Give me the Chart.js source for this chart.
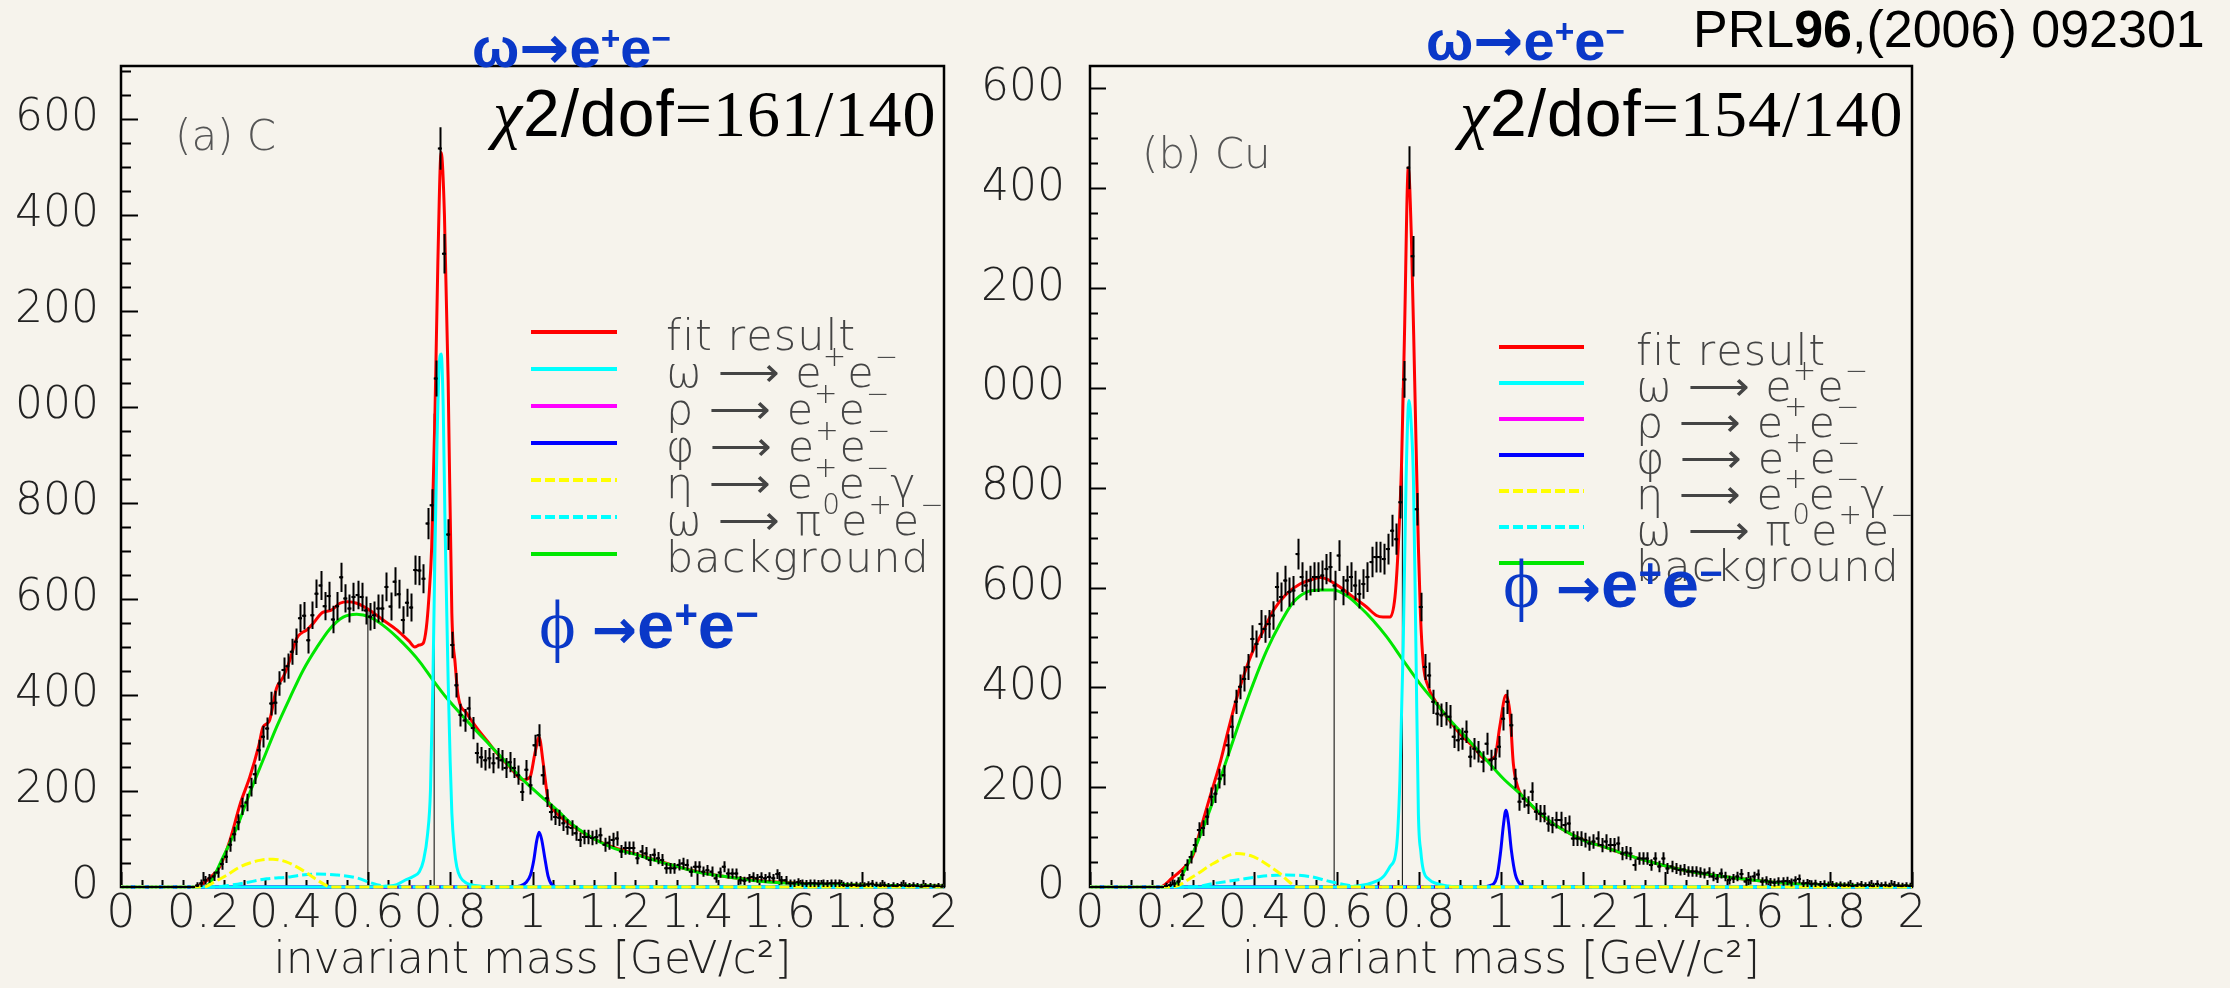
<!DOCTYPE html>
<html>
<head>
<meta charset="utf-8">
<title>omega, phi -> e+e- in C and Cu</title>
<script src="https://cdn.jsdelivr.net/npm/chart.js@4.4.1/dist/chart.umd.min.js"></script>
<style>
  html, body { margin: 0; padding: 0; }
  body { width: 2230px; height: 988px; position: relative; overflow: hidden; background: #f6f3ec; }
  canvas { position: absolute; top: 0; }
  #panelC { left: 0; }
  #panelCu { left: 984px; }
  .txt { position: absolute; white-space: nowrap; line-height: 1; }
  .blue { color: #0a38c8; font-family: 'Liberation Sans', Arial, sans-serif; font-weight: bold; font-size: 56px; }
  .blue sup, .phi sup { font-size: 0.6em; line-height: 0; position: relative; top: -0.5em; vertical-align: baseline; }
  .ar { font-family: 'DejaVu Sans', sans-serif; font-weight: bold; position: relative; line-height: 0; }
  .blue .ar { font-size: 60px; top: 1px; }
  .phi .ar { font-size: 54px; margin-left: 16px; }
  .target { font-family: 'DejaVu Sans', sans-serif; font-weight: 200; color: #555; font-size: 42px; }
  .chi { font-family: 'Liberation Sans', Arial, sans-serif; font-size: 66px; color: #000; letter-spacing: 1px; }
  .chi .g { font-family: 'Liberation Serif', serif; font-style: italic; }
  .chi .n { font-family: 'Liberation Serif', serif; font-size: 66px; }
  .ref { font-family: 'Liberation Sans', Arial, sans-serif; font-size: 52px; color: #000; }
  .phi { color: #0a38c8; font-family: 'Liberation Sans', Arial, sans-serif; font-weight: bold; font-size: 67px; }
  .phi .s { font-family: 'Liberation Serif', serif; font-weight: normal; font-size: 70px; }
</style>
</head>
<body>
<canvas id="panelC" width="960" height="988"></canvas>
<canvas id="panelCu" width="1246" height="988"></canvas>

<div class="txt blue" style="left:472px;top:20px">ω<span class="ar">→</span>e<sup>+</sup>e<sup>−</sup></div>
<div class="txt blue" style="left:1426px;top:13px">ω<span class="ar">→</span>e<sup>+</sup>e<sup>−</sup></div>
<div class="txt ref" style="left:1693px;top:3px">PRL<b>96</b>,(2006) 092301</div>
<div class="txt chi" style="left:493px;top:80px"><span class="g">χ</span>2/dof<span class="n">=161/140</span></div>
<div class="txt chi" style="left:1460px;top:80px"><span class="g">χ</span>2/dof<span class="n">=154/140</span></div>
<div class="txt target" style="left:175px;top:115px">(a) C</div>
<div class="txt target" style="left:1142px;top:133px">(b) Cu</div>
<div class="txt phi" style="left:539px;top:590px"><span class="s">ϕ</span><span class="ar">→</span>e<sup>+</sup>e<sup>−</sup></div>
<div class="txt phi" style="left:1503px;top:549px"><span class="s">ϕ</span><span class="ar">→</span>e<sup>+</sup>e<sup>−</sup></div>

<script>
// histogram binning: 10 MeV bins from 0 to 2 GeV/c2
const binWidth = 0.01;
const firstBinCentre = 0.005;

const massTicks = ['0', '0.2', '0.4', '0.6', '0.8', '1', '1.2', '1.4', '1.6', '1.8', '2'];
const countTicks = ['0', '200', '400', '600', '800', '000', '200', '400', '600'];

const legendKeys = ['fit', 'omega', 'rho', 'phi', 'eta', 'omegaDalitz', 'background'];
const legendLabels = ['fit result', 'ω ⟶ e^+e^−', 'ρ ⟶ e^+e^−', 'φ ⟶ e^+e^−',
                      'η ⟶ e^+e^−γ', 'ω ⟶ π^0e^+e^−', 'background'];

// ---- (a) carbon target ----
const countsC = [
  0, 0, 0, 0, 0, 0, 0, 0, 0, 0,
  0, 0, 0, 0, 0, 0, 0, 0,
  3, 8, 14, 18, 22, 30, 48, 63, 88, 110,
  135, 168, 176, 208, 235, 285, 313, 330, 382, 384,
  424, 452, 460, 490, 511, 560, 565, 514, 566, 611,
  628, 585, 606, 557, 585, 645, 601, 580, 604, 608,
  604, 576, 563, 566, 580, 580, 625, 584, 636, 610,
  556, 592, 582, 660, 659, 642, 757, 795, 1059, 1538,
  1319, 734, 504, 420, 358, 347, 372, 331, 279, 270,
  264, 268, 258, 268, 264, 248, 260, 248, 233, 198,
  244, 212, 295, 316, 233, 185, 156, 146, 144, 133,
  125, 123, 112, 98, 104, 104, 102, 104, 108, 88,
  92, 98, 101, 74, 81, 81, 81, 60, 74, 70,
  56, 67, 60, 56, 39, 39, 39, 46, 49, 46,
  32, 42, 42, 32, 35, 32, 18, 30, 42, 28,
  28, 28, 14, 13, 18, 21, 18, 21, 18, 21,
  18, 27, 14, 14, 8, 8, 10, 8, 7, 8,
  8, 7, 8, 7, 8, 8, 8, 4, 3, 4,
  4, 3, 3, 5, 7, 4, 3, 4, 2, 3,
  2, 4, 3, 2, 3, 2, 1, 2, 2, 1,
  2, 1
];
const fitC = [
  [0, 0], [0.18, 0], [0.2, 8], [0.22, 22], [0.24, 42], [0.265, 98], [0.29, 174], [0.313, 229],
  [0.335, 295], [0.345, 333], [0.36, 345], [0.378, 414], [0.394, 437], [0.41, 472], [0.427, 518],
  [0.44, 530], [0.451, 535], [0.467, 549], [0.49, 572], [0.51, 576], [0.532, 591], [0.55, 594],
  [0.573, 591], [0.605, 576], [0.637, 556], [0.671, 535], [0.685, 524], [0.7, 512], [0.714, 500],
  [0.725, 504], [0.734, 507], [0.742, 540], [0.748, 600], [0.755, 708], [0.763, 986], [0.77, 1300],
  [0.778, 1530], [0.786, 1400], [0.795, 1055], [0.804, 570], [0.812, 466], [0.819, 400], [0.84, 362],
  [0.865, 331], [0.892, 302], [0.913, 279], [0.945, 250], [0.977, 223], [0.994, 229], [1.006, 279],
  [1.016, 312], [1.026, 258], [1.038, 181], [1.05, 162], [1.1, 126], [1.15, 100], [1.2, 82],
  [1.25, 69], [1.3, 56], [1.35, 43], [1.4, 32], [1.45, 24], [1.5, 18], [1.55, 13], [1.6, 10],
  [1.7, 6], [1.8, 4], [1.9, 3], [2, 2]
];
const backgroundC = [
  [0, 0], [0.2, 0], [0.216, 8], [0.248, 62], [0.282, 125], [0.313, 196], [0.345, 264], [0.378, 333],
  [0.411, 395], [0.443, 452], [0.476, 499], [0.508, 538], [0.54, 562], [0.573, 568], [0.605, 562],
  [0.637, 545], [0.671, 520], [0.702, 493], [0.727, 468], [0.758, 431], [0.792, 393], [0.824, 362],
  [0.855, 333], [0.897, 295], [0.938, 258], [0.977, 223], [1.018, 191], [1.06, 160], [1.1, 128],
  [1.15, 100], [1.2, 80], [1.25, 68], [1.3, 55], [1.35, 43], [1.4, 31], [1.45, 24], [1.5, 18],
  [1.55, 12], [1.6, 9], [1.7, 6], [1.8, 4], [1.9, 3], [2, 2]
];
const omegaC = [
  [0, 0], [0.6, 0], [0.65, 2], [0.67, 5], [0.69, 14], [0.71, 22], [0.725, 32], [0.735, 55],
  [0.745, 110], [0.752, 200], [0.758, 431], [0.763, 700], [0.768, 930], [0.773, 1080], [0.778, 1110],
  [0.783, 1000], [0.787, 778], [0.791, 600], [0.795, 431], [0.8, 260], [0.804, 154], [0.81, 80],
  [0.816, 42], [0.825, 20], [0.84, 8], [0.86, 3], [0.9, 0], [2, 0]
];
const rhoC = [[0, 0], [2, 0]];
const phiC = [
  [0, 0], [0.95, 0], [0.97, 2], [0.985, 10], [0.995, 25], [1.003, 55], [1.01, 95], [1.016, 114],
  [1.022, 100], [1.03, 60], [1.038, 22], [1.045, 7], [1.055, 1], [1.07, 0], [2, 0]
];
const etaC = [
  [0, 0], [0.2, 0], [0.209, 2], [0.23, 12], [0.258, 25], [0.285, 40], [0.313, 50], [0.34, 56],
  [0.369, 58], [0.4, 53], [0.427, 42], [0.45, 30], [0.476, 15], [0.495, 5], [0.508, 0], [2, 0]
];
const omegaDalitzC = [
  [0, 0], [0.23, 0], [0.26, 3], [0.297, 8], [0.354, 17], [0.41, 21], [0.44, 25], [0.476, 27],
  [0.524, 25], [0.573, 19], [0.61, 8], [0.637, 2], [0.66, 0], [2, 0]
];
const guidesC = [[0.6, 576], [0.761, 986]];

// ---- (b) copper target ----
const countsCu = [
  0, 0, 0, 0, 0, 0, 0, 0, 0, 0,
  0, 0, 0, 0, 0, 0, 0, 0,
  2, 4, 7, 11, 24, 44, 60, 84, 114, 118,
  141, 181, 187, 217, 224, 284, 321, 371, 401, 417,
  441, 497, 487, 527, 517, 527, 544, 601, 581, 614,
  591, 594, 667, 621, 604, 614, 621, 621, 624, 637,
  641, 604, 664, 594, 614, 621, 604, 587, 607, 621,
  651, 661, 661, 657, 677, 714, 697, 771, 1017, 1441,
  1264, 757, 561, 441, 424, 371, 347, 344, 347, 341,
  301, 294, 297, 311, 261, 277, 271, 251, 287, 254,
  257, 281, 337, 371, 324, 217, 171, 177, 164, 191,
  151, 147, 147, 127, 124, 134, 134, 124, 127, 97,
  97, 97, 94, 87, 91, 97, 84, 91, 84, 84,
  87, 67, 69, 67, 44, 57, 57, 57, 44, 57,
  41, 57, 37, 41, 37, 34, 35, 31, 31, 31,
  29, 27, 29, 21, 17, 27, 21, 14, 17, 21,
  26, 11, 14, 21, 25, 11, 13, 10, 9, 11,
  11, 12, 9, 13, 16, 7, 8, 6, 7, 5,
  6, 4, 5, 3, 4, 3, 4, 2, 3, 5,
  3, 4, 2, 6, 3, 4, 2, 5, 3, 2,
  3, 2
];
const fitCu = [
  [0, 0], [0.17, 0], [0.2, 18], [0.235, 44], [0.25, 62], [0.267, 110], [0.292, 181], [0.316, 247],
  [0.332, 300], [0.353, 367], [0.373, 421], [0.397, 474], [0.422, 514], [0.446, 554], [0.478, 587],
  [0.511, 607], [0.543, 617], [0.56, 620], [0.576, 617], [0.608, 601], [0.64, 581], [0.673, 561],
  [0.697, 544], [0.713, 541], [0.73, 541], [0.742, 581], [0.75, 681], [0.758, 847], [0.765, 1100],
  [0.7745, 1441], [0.782, 1300], [0.79, 1014], [0.799, 681], [0.804, 547], [0.811, 447], [0.823, 401],
  [0.839, 374], [0.868, 341], [0.9, 307], [0.933, 281], [0.965, 254], [0.985, 261], [0.997, 321],
  [1.012, 384], [1.022, 347], [1.03, 247], [1.042, 197], [1.062, 174], [1.103, 141], [1.168, 107],
  [1.208, 92], [1.249, 81], [1.297, 67], [1.378, 47], [1.46, 31], [1.541, 21], [1.622, 13],
  [1.703, 7], [1.784, 5], [1.865, 3], [1.95, 2], [2, 2]
];
const backgroundCu = [
  [0, 0], [0.2, 0], [0.235, 41], [0.267, 101], [0.3, 174], [0.332, 254], [0.365, 334], [0.397, 407],
  [0.43, 474], [0.462, 527], [0.495, 571], [0.527, 591], [0.56, 595], [0.592, 595], [0.624, 584],
  [0.657, 561], [0.689, 534], [0.722, 501], [0.762, 454], [0.803, 407], [0.843, 367], [0.884, 327],
  [0.925, 291], [0.965, 254], [1.006, 217], [1.046, 187], [1.087, 154], [1.127, 127], [1.168, 107],
  [1.208, 91], [1.249, 81], [1.297, 67], [1.378, 47], [1.46, 31], [1.541, 21], [1.622, 13],
  [1.703, 7], [1.784, 5], [1.865, 3], [1.95, 2], [2, 2]
];
const omegaCu = [
  [0, 0], [0.6, 0], [0.65, 2], [0.681, 7], [0.714, 21], [0.73, 41], [0.746, 81], [0.754, 214],
  [0.762, 481], [0.769, 814], [0.776, 975], [0.782, 920], [0.787, 814], [0.793, 481], [0.799, 147],
  [0.805, 70], [0.811, 34], [0.825, 15], [0.843, 7], [0.87, 2], [0.9, 0], [2, 0]
];
const rhoCu = [[0, 0], [2, 0]];
const phiCu = [
  [0, 0], [0.95, 0], [0.973, 3], [0.99, 20], [0.999, 70], [1.006, 125], [1.012, 154], [1.018, 130],
  [1.025, 75], [1.035, 25], [1.05, 3], [1.06, 0], [2, 0]
];
const etaCu = [
  [0, 0], [0.2, 0], [0.251, 21], [0.3, 47], [0.357, 67], [0.39, 63], [0.414, 54], [0.44, 40],
  [0.462, 27], [0.485, 10], [0.503, 0], [2, 0]
];
const omegaDalitzCu = [
  [0, 0], [0.25, 0], [0.3, 7], [0.357, 14], [0.414, 21], [0.478, 24], [0.535, 21], [0.584, 11],
  [0.624, 4], [0.66, 0], [2, 0]
];
const guidesCu = [[0.594, 612], [0.76, 1000]];

// ---------------------------------------------------------------
const thinFont = "'DejaVu Sans', Roboto, sans-serif";

function statError(n) {
  return n > 0 ? Math.sqrt(n) + 5 : 0;
}

function histPoints(counts) {
  return counts.map((n, i) => ({ x: firstBinCentre + i * binWidth, y: n }));
}

function curve(label, list, color, dash) {
  return {
    label,
    data: list.map(([x, y]) => ({ x, y })),
    borderColor: color,
    borderWidth: 3,
    borderDash: dash || [],
    pointRadius: 0,
    cubicInterpolationMode: 'monotone',
    clip: 6,
    fill: false
  };
}

// frame box plus the inward tick marks of the axes
const rootFrame = {
  id: 'rootFrame',
  beforeDatasetsDraw(chart, args, o) {
    const { ctx, chartArea: a, scales: { x, y } } = chart;
    ctx.save();
    ctx.strokeStyle = '#000';
    ctx.lineWidth = 2.5;
    ctx.strokeRect(a.left, a.top, a.right - a.left, a.bottom - a.top);
    ctx.lineWidth = 2;
    ctx.beginPath();
    for (let v = 0; v <= y.max; v += 50) {
      const py = Math.round(y.getPixelForValue(v)) + 0.5;
      ctx.moveTo(a.left, py);
      ctx.lineTo(a.left + (v % 200 === 0 ? o.yMajor : o.yMinor), py);
    }
    for (let i = 0; i <= 40; i++) {
      const px = Math.round(x.getPixelForValue(i * 0.05)) + 0.5;
      ctx.moveTo(px, a.bottom);
      ctx.lineTo(px, a.bottom - (i % 4 === 0 ? o.xMajor : o.xMinor));
    }
    ctx.stroke();
    ctx.restore();
  }
};

const errorBars = {
  id: 'errorBars',
  afterDatasetsDraw(chart) {
    const { ctx, chartArea: a, scales: { x, y } } = chart;
    ctx.save();
    ctx.beginPath();
    ctx.rect(a.left, a.top, a.right - a.left, a.bottom - a.top + 2);
    ctx.clip();
    ctx.strokeStyle = '#000';
    ctx.lineWidth = 2;
    chart.data.datasets.forEach(ds => {
      if (!ds.errorBars) return;
      ctx.beginPath();
      ds.data.forEach(p => {
        const e = statError(p.y);
        const px = Math.round(x.getPixelForValue(p.x)) + 0.5;
        const py = y.getPixelForValue(p.y);
        if (e > 0) {
          ctx.moveTo(px, y.getPixelForValue(p.y + e));
          ctx.lineTo(px, y.getPixelForValue(Math.max(p.y - e, 0)));
        }
        ctx.moveTo(x.getPixelForValue(p.x - binWidth / 2), py);
        ctx.lineTo(x.getPixelForValue(p.x + binWidth / 2), py);
      });
      ctx.stroke();
    });
    ctx.restore();
  }
};

// legend text: "^c" raises the next character
function drawLabel(ctx, text, x, y, size) {
  let cx = x;
  for (let i = 0; i < text.length; i++) {
    let ch = text[i];
    let sup = false;
    if (ch === '^') { sup = true; ch = text[++i]; }
    ctx.font = `200 ${sup ? size * 0.65 : size}px ${thinFont}`;
    ctx.fillText(ch, cx, sup ? y - size * 0.5 : y);
    cx += ctx.measureText(ch).width + 1;
  }
}

const rootLegend = {
  id: 'rootLegend',
  afterDraw(chart, args, o) {
    const ctx = chart.ctx;
    ctx.save();
    ctx.fillStyle = '#444';
    ctx.textBaseline = 'alphabetic';
    legendKeys.forEach((key, i) => {
      const ds = chart.data.datasets.find(d => d.label === key);
      const ly = o.top + i * o.step;
      ctx.strokeStyle = ds.borderColor;
      ctx.lineWidth = 4;
      ctx.setLineDash(ds.borderDash);
      ctx.beginPath();
      ctx.moveTo(o.x, ly);
      ctx.lineTo(o.x + o.width, ly);
      ctx.stroke();
      ctx.setLineDash([]);
      drawLabel(ctx, legendLabels[i], o.textX, ly + 18, 43);
    });
    ctx.restore();
  }
};

function buildPanel(canvasId, p) {
  // first entry is painted last, so the list runs from top layer to bottom layer
  const datasets = [
    {
      label: 'data', data: histPoints(p.counts), showLine: false, errorBars: true,
      pointStyle: 'rect', pointRadius: 1.6, pointBackgroundColor: '#000',
      pointBorderColor: '#000', pointBorderWidth: 0, borderColor: '#000', clip: 4
    },
    curve('eta', p.eta, '#ffff00', [10, 4]),
    curve('omegaDalitz', p.omegaDalitz, '#00ffff', [10, 4]),
    curve('omega', p.omega, '#00ffff'),
    curve('phi', p.phi, '#0000ff'),
    curve('rho', p.rho, '#ff00ff'),
    curve('background', p.background, '#00e600'),
    curve('fit', p.fit, '#ff0000')
  ];
  p.guides.forEach(([m, top]) => {
    datasets.push({
      label: 'guide', data: [{ x: m, y: 0 }, { x: m, y: top }],
      borderColor: '#000', borderWidth: 1, pointRadius: 0
    });
  });

  const tickFont = { family: thinFont, size: 44, weight: 200 };

  return new Chart(document.getElementById(canvasId), {
    type: 'line',
    data: { datasets },
    options: {
      responsive: false,
      animation: false,
      devicePixelRatio: 1,
      layout: { padding: { left: 0, top: 66, right: p.padRight, bottom: 0 } },
      plugins: {
        legend: { display: false },
        tooltip: { enabled: false },
        rootFrame: { yMajor: p.yMajor, yMinor: p.yMinor, xMajor: 15, xMinor: 7 },
        rootLegend: p.legend
      },
      scales: {
        x: {
          type: 'linear', min: 0, max: 2,
          grid: { display: false, drawTicks: false },
          border: { display: false },
          ticks: {
            stepSize: 0.2, autoSkip: false, maxRotation: 0, minRotation: 0, padding: 0,
            color: '#222', font: { family: thinFont, size: 46, weight: 200 },
            callback: (v, i) => massTicks[i]
          },
          title: {
            display: true, text: 'invariant mass [GeV/c²]', color: '#222',
            font: { family: thinFont, size: 44, weight: 200 }, padding: 0
          },
          afterFit: s => { s.height = 101; }
        },
        y: {
          type: 'linear', min: 0, max: p.yMax,
          grid: { display: false, drawTicks: false },
          border: { display: false },
          ticks: {
            stepSize: 200, includeBounds: false, autoSkip: false, padding: p.labelGap,
            color: '#222', font: tickFont,
            callback: (v, i) => countTicks[i]
          },
          afterFit: s => { s.width = p.axisWidth; }
        }
      }
    },
    plugins: [rootFrame, errorBars, rootLegend]
  });
}

buildPanel('panelC', {
  counts: countsC, fit: fitC, background: backgroundC, omega: omegaC, rho: rhoC, phi: phiC,
  eta: etaC, omegaDalitz: omegaDalitzC, guides: guidesC,
  yMax: 1710, axisWidth: 121, labelGap: 22, padRight: 16, yMajor: 17, yMinor: 10,
  legend: { x: 531, width: 86, textX: 666, top: 332, step: 37 }
});

buildPanel('panelCu', {
  counts: countsCu, fit: fitCu, background: backgroundCu, omega: omegaCu, rho: rhoCu, phi: phiCu,
  eta: etaCu, omegaDalitz: omegaDalitzCu, guides: guidesCu,
  yMax: 1645, axisWidth: 106, labelGap: 25, padRight: 318, yMajor: 16, yMinor: 8,
  legend: { x: 515, width: 85, textX: 652, top: 347, step: 36 }
});
</script>
</body>
</html>
